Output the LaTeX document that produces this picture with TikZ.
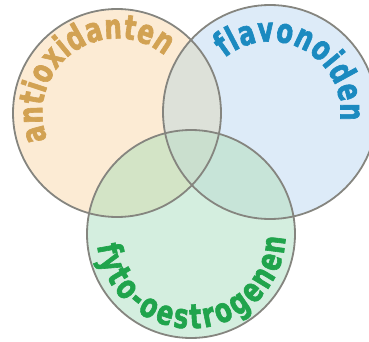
\documentclass[tikz,border=0pt]{standalone}
\usepackage{fontspec}
\usetikzlibrary{decorations.text}
\newfontfamily\vennfont[FakeStretch=0.72, FakeBold=1.8]{DejaVu Sans Bold}
\definecolor{ringgray}{HTML}{85857F}
\definecolor{peach}{HTML}{FCEBD4}
\definecolor{skyblue}{HTML}{DDEBF8}
\definecolor{mint}{HTML}{D4EEDF}
\definecolor{peachsky}{HTML}{DDE1D9}
\definecolor{peachmint}{HTML}{D3E4C6}
\definecolor{skymint}{HTML}{C7E4D8}
\definecolor{allthree}{HTML}{CADFCE}
\definecolor{goldtext}{HTML}{D2A253}
\definecolor{bluetext}{HTML}{1B8AC0}
\definecolor{greentext}{HTML}{20A44C}
\tikzset{
  ring/.style={draw=ringgray, line width=1.8pt},
}
% label along a rim: centre, start, end, radius, colour, text
\newcommand{\ringlabel}[6]{%
  \path[shift={(#1)}, decorate,
    decoration={text along path, text align=fit to path,
      text={|\vennfont\fontsize{34}{34}\selectfont\color{#5}|#6}}]
    (#2:#4) arc[start angle=#2, end angle=#3, radius=#4];
}
\begin{document}
\begin{tikzpicture}[x=1pt, y=1pt]
% Venn: three overlapping circles
\useasboundingbox (0,0) rectangle (369,341);
\coordinate (anti) at (117,228);
\coordinate (flav) at (270,229);
\coordinate (fyto) at (191,107);
\fill[peach] (anti) circle (104);
\fill[skyblue] (flav) circle (107);
\fill[mint] (fyto) circle (104);
\begin{scope}
  \clip (anti) circle (104);
  \fill[peachsky] (flav) circle (107);
  \fill[peachmint] (fyto) circle (104);
\end{scope}
\begin{scope}
  \clip (flav) circle (107);
  \fill[skymint] (fyto) circle (104);
  \clip (anti) circle (104);
  \fill[allthree] (fyto) circle (104);
\end{scope}
\draw[ring] (anti) circle (104);
\draw[ring] (flav) circle (107);
\draw[ring] (fyto) circle (104);
% labels along the rims
\ringlabel{anti}{201}{50}{74.5}{goldtext}{antioxidanten}
\ringlabel{flav}{130}{-7}{70.5}{bluetext}{flavonoiden}
\ringlabel{fyto}{187}{358}{94.5}{greentext}{fyto-oestrogenen}
\end{tikzpicture}
\end{document}
